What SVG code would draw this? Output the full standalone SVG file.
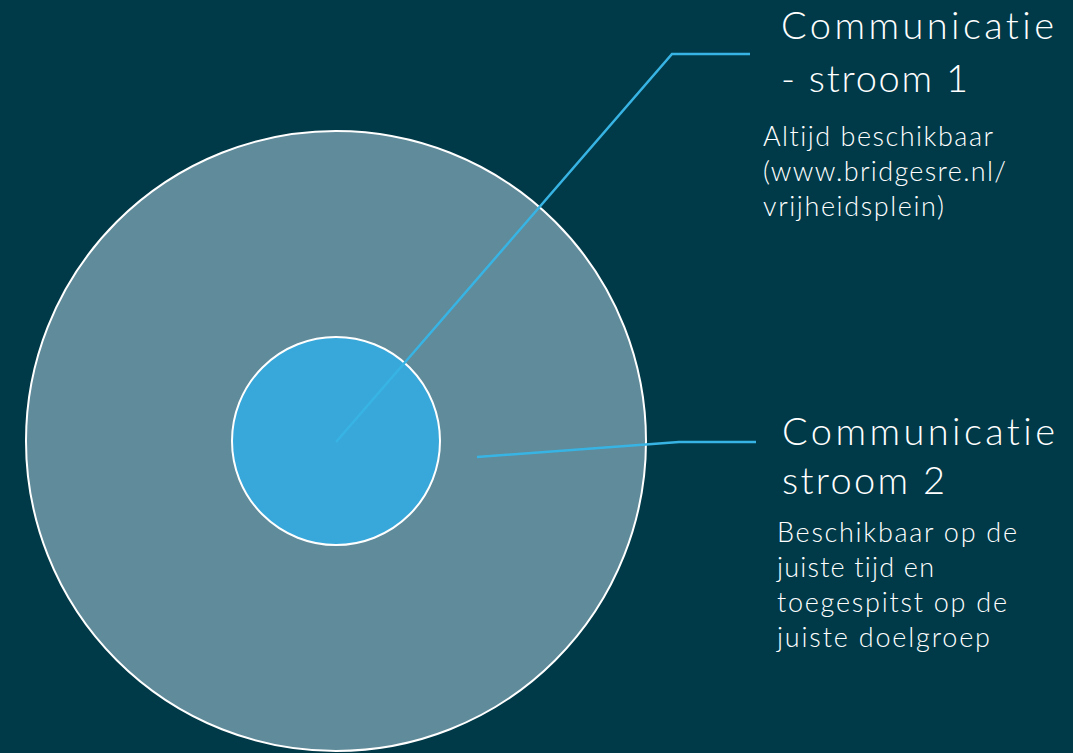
<svg xmlns="http://www.w3.org/2000/svg" width="1073" height="753" viewBox="0 0 1073 753">
<style>
text{font-family:Lato,"Open Sans",sans-serif;font-weight:300;fill:#fff;font-variant-ligatures:none;font-feature-settings:"liga" 0}
.title{font-size:38px}
.body{font-size:27px}
.conn{fill:none;stroke:#38B4E4;stroke-width:2.5}
</style>
<rect width="1073" height="753" fill="#003A48"/>
<g id="outer-circle"><circle cx="336" cy="441" r="310" fill="#5F8B9A" stroke="#fff" stroke-width="2"/></g>
<g id="inner-circle"><circle cx="336" cy="441" r="104" fill="#38A8DA" stroke="#fff" stroke-width="2"/></g>
<g id="connectors">
<polyline class="conn" points="336,442 672,54 750,54"/>
<polyline class="conn" points="477,457 679,442 756,442"/>
</g>
<g id="label1">
<text class="title" x="781" y="39" textLength="273" lengthAdjust="spacing">Communicatie</text>
<text class="title" x="781" y="92" textLength="187" lengthAdjust="spacing">- stroom 1</text>
<text class="body" x="763" y="146" textLength="230" lengthAdjust="spacing">Altijd beschikbaar</text>
<text class="body" x="763" y="181" textLength="243" lengthAdjust="spacing">(www.bridgesre.nl/</text>
<text class="body" x="763" y="216" textLength="181" lengthAdjust="spacing">vrijheidsplein)</text>
</g>
<g id="label2">
<text class="title" x="782" y="445" textLength="273" lengthAdjust="spacing">Communicatie</text>
<text class="title" x="782" y="494" textLength="163" lengthAdjust="spacing">stroom 2</text>
<text class="body" x="777" y="542" textLength="240" lengthAdjust="spacing">Beschikbaar op de</text>
<text class="body" x="777" y="577" textLength="157" lengthAdjust="spacing">juiste tijd en</text>
<text class="body" x="777" y="612" textLength="230" lengthAdjust="spacing">toegespitst op de</text>
<text class="body" x="777" y="647" textLength="213" lengthAdjust="spacing">juiste doelgroep</text>
</g>
</svg>
